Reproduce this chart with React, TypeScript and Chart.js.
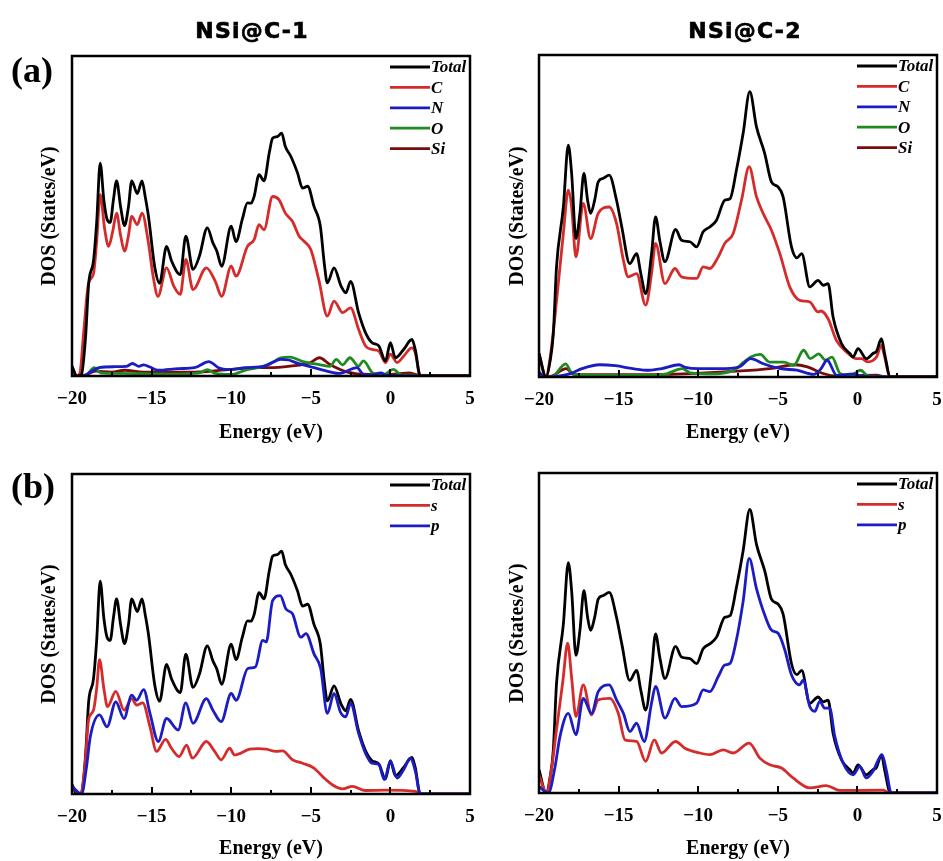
import React, { useEffect, useRef } from "react";
import { Chart, registerables } from "chart.js";
Chart.register(...registerables);

// ---------- data (energy in eV, DOS in arbitrary units 0..100) ----------
const xTickValues = [-20, -15, -10, -5, 0, 5];
const yMax = 100;

const nsi1Total = [[-20,3],[-19.7,0],[-19.4,0.5],[-19.15,12],[-18.95,29],[-18.65,36],[-18.45,48],[-18.23,66.5],[-18.0,55],[-17.8,49],[-17.6,48],[-17.4,55],[-17.2,61],[-16.95,53],[-16.7,47],[-16.45,53],[-16.25,61],[-15.9,57],[-15.6,61],[-15.4,56],[-15.2,50],[-14.8,34],[-14.5,29],[-14.06,40.5],[-13.75,36],[-13.2,31.7],[-12.85,43.7],[-12.4,33.3],[-12.0,37.4],[-11.5,46.3],[-11.15,41.6],[-10.9,39],[-10.6,34.3],[-10.0,46.8],[-9.7,42],[-9.3,49],[-8.98,54.1],[-8.75,54],[-8.56,56.1],[-8.25,62.9],[-7.94,61],[-7.6,70],[-7.4,74.3],[-7.1,74.8],[-6.83,75.9],[-6.6,71.7],[-6.25,68.6],[-5.83,63.4],[-5.52,58.7],[-5.2,59.3],[-4.8,53],[-4.4,46.8],[-4.15,35],[-3.96,29.1],[-3.54,33.8],[-3.1,28.1],[-2.8,26],[-2.5,29.6],[-2.0,19.8],[-1.56,13.5],[-1.15,10.4],[-0.73,9.4],[-0.31,4.7],[0,10.4],[0.31,5.7],[0.83,8.3],[1.35,11.4],[1.56,8.3],[1.875,0],[5,0]];
const nsi1C = [[-20,3],[-19.7,0],[-19.5,1],[-19.27,13.5],[-18.96,29],[-18.65,32],[-18.45,42],[-18.23,56.7],[-17.95,46],[-17.7,40.5],[-17.45,45],[-17.2,50.9],[-16.95,44],[-16.7,39],[-16.45,44],[-16.25,49.9],[-15.9,47.3],[-15.6,50.9],[-15.2,41.6],[-14.9,31],[-14.6,24.9],[-14.06,33.8],[-13.6,28],[-13.2,25.5],[-12.85,36.4],[-12.4,27],[-11.56,33.8],[-11.0,29.6],[-10.6,24.9],[-10.0,34.3],[-9.7,31.2],[-8.98,40.5],[-8.56,42.6],[-8.25,47.3],[-7.94,45.7],[-7.4,56.1],[-7.0,55.1],[-6.6,50.9],[-6.15,48.3],[-5.73,43.7],[-5.42,42.1],[-5.0,39.5],[-4.5,30.1],[-3.96,18.7],[-3.54,23.4],[-3.0,19.8],[-2.5,21.3],[-2.0,14.6],[-1.56,9.4],[-1.15,8.3],[-0.73,7.8],[-0.31,4.2],[0,6.8],[0.42,4.2],[0.83,6.2],[1.35,8.8],[1.56,7.3],[1.875,0],[5,0]];
const nsi1N = [[-20,0],[-19.3,0],[-18.75,1.5],[-18.3,2.6],[-17.3,2.9],[-16.6,3],[-16.2,3.9],[-15.8,3],[-15.5,3.5],[-15.1,2.8],[-14.6,1.8],[-13.3,2.3],[-12.3,2.6],[-11.4,4.5],[-10.8,2.6],[-10.2,2.0],[-9.1,2.6],[-7.9,3.1],[-7.45,4.1],[-6.9,5.2],[-6.4,5],[-5.9,4.1],[-4.8,2.6],[-3.8,1.3],[-3.2,0.8],[-2.1,2.6],[-1.7,0.5],[-1.2,0.3],[-0.6,1],[-0.2,0.2],[5,0]];
const nsi1O = [[-20,0],[-19.2,0],[-18.6,2.6],[-18.2,1],[-17,0.8],[-14,0.6],[-12,1],[-11.5,2],[-11,0.8],[-10,0.5],[-9,2],[-8,3],[-7.3,4.5],[-6.9,5.7],[-6.3,5.9],[-5.5,4.5],[-4.4,3.5],[-3.8,3],[-3.4,5.2],[-3.0,3.5],[-2.54,5.7],[-2.0,3.1],[-1.7,4.7],[-1.07,0.8],[-0.4,0.5],[0.18,2.1],[0.7,0.3],[1.5,0.3],[5,0]];
const nsi1Si = [[-20,0],[-19.2,0.3],[-18.5,1.5],[-17.5,1.2],[-16.7,1.8],[-15.5,1.2],[-14,1.2],[-12,1.3],[-10.2,2],[-8.3,2.6],[-7.56,2.6],[-6.3,3.1],[-5.05,4.1],[-4.46,5.7],[-3.8,3.6],[-2.75,1.3],[-1.3,0.5],[0,0.5],[1.2,1],[1.9,0],[5,0]];
const nsi1S = [[-20,2.4],[-19.5,0],[-19.2,8],[-18.96,23.1],[-18.65,26.2],[-18.45,33],[-18.27,42],[-18.0,33],[-17.77,27.3],[-17.25,32.1],[-16.73,26.2],[-16.25,29.8],[-15.94,27.8],[-15.56,28.5],[-15.1,21],[-14.69,13.3],[-14.12,17.1],[-13.75,14.3],[-13.27,11.7],[-12.8,15.3],[-12.44,11.2],[-11.56,16.4],[-11.04,13.3],[-10.63,10.7],[-10.1,14.3],[-9.79,12.2],[-8.85,14],[-8.3,14.2],[-7.8,14],[-7.19,13.3],[-6.77,13.5],[-6.15,10.7],[-5.52,9.6],[-4.8,8.1],[-4.27,5.5],[-3.65,2.9],[-3.0,1.6],[-2.4,2.4],[-1.56,1.1],[-0.31,1.2],[1.56,0.8],[1.9,0],[5,0]];
const nsi1P = [[-20,2.4],[-19.4,0],[-19.1,8],[-18.85,17.9],[-18.27,24.7],[-17.8,21],[-17.25,28.8],[-16.73,23.6],[-16.25,30.9],[-15.94,29.3],[-15.5,32.6],[-15.1,25.2],[-14.58,16.4],[-14.06,23.6],[-13.33,20],[-12.85,28.5],[-12.4,22.1],[-11.56,29.8],[-11.15,26.2],[-10.63,22.6],[-10.0,31.4],[-9.69,29.3],[-8.96,39.2],[-8.48,39.7],[-8.02,48],[-7.8,47.5],[-7.4,60.4],[-6.92,62],[-6.56,57.8],[-6.15,56.3],[-5.63,49],[-5.3,50.1],[-4.8,43.8],[-4.38,39.2],[-3.96,25.2],[-3.54,31.4],[-3.13,25.5],[-2.81,24.1],[-2.5,28.3],[-2.0,19],[-1.56,12.7],[-1.15,9.6],[-0.73,9.2],[-0.38,4.5],[0,10.2],[0.42,5],[0.83,7.6],[1.25,11.2],[1.56,7.3],[1.875,0],[5,0]];

const nsi2Total = [[-20,7.3],[-19.56,0],[-19.3,5],[-19.1,13.5],[-18.9,34.2],[-18.47,52.8],[-18.16,72],[-17.95,63.2],[-17.68,43],[-17.43,50.8],[-17.18,63.2],[-16.95,55],[-16.76,50.8],[-16.5,55],[-16.28,60.6],[-15.96,61.7],[-15.59,62.7],[-15.13,54.9],[-14.8,46.6],[-14.3,35.2],[-13.87,38.3],[-13.6,32],[-13.3,25.9],[-12.93,38.3],[-12.68,49.7],[-12.4,42],[-12.09,35.8],[-11.42,45.8],[-11.05,42.5],[-10.52,42],[-10.1,40.4],[-9.69,45.1],[-9.27,46.6],[-8.85,48.7],[-8.33,54.9],[-8.0,55.4],[-7.6,64.2],[-7.18,75.6],[-6.76,88.6],[-6.34,77.7],[-5.82,69.4],[-5.4,60.6],[-4.98,59],[-4.67,56],[-4.14,40.4],[-3.8,37],[-3.5,38.3],[-2.99,28],[-2.47,30],[-2.15,28.5],[-1.84,29],[-1.53,18.7],[-1.0,10.4],[-0.48,7.3],[-0.27,6.2],[0.04,8.8],[0.56,5.7],[0.98,7.3],[1.2,8],[1.51,11.9],[1.72,7],[2.07,0],[5,0]];
const nsi2C = [[-20,7.3],[-19.56,0],[-19.3,6],[-19.0,18.7],[-18.47,44.6],[-18.16,58],[-17.95,52.8],[-17.68,37.3],[-17.22,53.9],[-16.76,43],[-16.28,50.8],[-15.59,52.8],[-15.13,47.7],[-14.7,36.3],[-14.4,31.1],[-13.87,32.1],[-13.3,22.3],[-12.93,32.1],[-12.68,41.5],[-12.09,29],[-11.46,33.7],[-11.05,31.1],[-10.1,30.6],[-9.69,34.2],[-9.27,33.7],[-8.74,37.3],[-8.33,41.5],[-7.8,44.6],[-7.28,54.9],[-6.8,65.3],[-6.34,56],[-5.92,50.8],[-5.4,45.6],[-4.87,38.3],[-4.25,28],[-3.62,23.8],[-2.99,23.3],[-2.47,20.2],[-2.3,20.5],[-1.84,18.1],[-1.32,11.4],[-0.69,7.8],[-0.06,5.7],[0.25,5.7],[0.67,4.7],[1.2,6.2],[1.5,9.8],[1.72,6],[2.05,0],[5,0]];
const nsi2N = [[-20,1.5],[-19.6,0],[-18.5,0.5],[-17.9,1.3],[-17.3,2.6],[-16.2,3.8],[-15.2,3.5],[-14.1,2.6],[-13.1,2.1],[-12.3,2.6],[-11.2,3.8],[-10.8,3],[-10.0,2.6],[-8.7,2.6],[-7.45,3.1],[-6.7,5.7],[-5.9,4.1],[-4.84,2.6],[-3.8,2.1],[-2.75,0.8],[-2.3,2.5],[-1.9,5.2],[-1.3,0.5],[-0.24,1.0],[0.3,0.2],[5,0]];
const nsi2O = [[-20,0],[-19.2,0],[-18.33,4.1],[-17.9,1.0],[-16,0.5],[-13,0.5],[-12,1],[-11.0,2.6],[-10.5,1.3],[-9,1],[-7.8,2],[-7.14,4.6],[-6.7,6.2],[-6.1,7.0],[-5.5,4.6],[-4.63,4.6],[-4.0,3.6],[-3.38,8.3],[-2.96,5.7],[-2.43,7.2],[-2.0,5.2],[-1.6,6.2],[-1.07,1.0],[-0.4,0.5],[0.18,2.1],[0.7,0.3],[5,0]];
const nsi2Si = [[-20,0],[-19.2,0.3],[-18.3,2.6],[-17.8,0.8],[-16,0.7],[-12,0.8],[-10,1.2],[-7.56,1.8],[-5.5,2.6],[-3.9,3.8],[-3.2,3.2],[-2.1,1.0],[-1.3,0.3],[1.2,0.6],[1.8,0],[5,0]];
const nsi2S = [[-20,5.7],[-19.52,0],[-19.2,8],[-18.9,19.8],[-18.5,35],[-18.2,46.8],[-17.95,36],[-17.68,23.9],[-17.22,33.8],[-16.7,24.4],[-16.28,29.1],[-15.54,29.6],[-15.02,24.9],[-14.6,16.6],[-13.87,16.1],[-13.3,9.9],[-12.76,16.6],[-12.3,12.5],[-11.42,16.1],[-10.84,14],[-9.9,12.5],[-9.27,12],[-8.43,13.5],[-7.8,12.5],[-6.8,15.6],[-6.13,10.9],[-5.5,8.8],[-4.77,7.8],[-4.04,4.7],[-2.99,1.6],[-1.95,2.3],[-1.1,0.8],[1.63,0.9],[2.0,0],[5,0]];
const nsi2P = [[-20,2],[-19.41,0],[-19.0,8],[-18.68,17.7],[-18.16,24.9],[-17.68,18.2],[-17.22,29.6],[-16.7,24.9],[-16.28,31.7],[-15.59,33.8],[-15.13,29.1],[-14.7,24.9],[-14.29,19.2],[-13.87,21.8],[-13.39,16.1],[-12.93,28.1],[-12.68,33.3],[-12.09,23.4],[-11.46,29.6],[-11.05,27],[-10.1,28.1],[-9.69,32.2],[-9.27,31.7],[-8.74,36.4],[-8.33,40],[-8.0,40.5],[-7.6,47.8],[-7.18,59.8],[-6.8,73.3],[-6.34,63.9],[-5.82,55.6],[-5.4,50.9],[-4.98,49.9],[-4.56,44.7],[-4.14,36.9],[-3.62,33.8],[-3.41,35.3],[-2.99,27],[-2.68,25.5],[-2.36,28.6],[-2.05,26.5],[-1.74,26.5],[-1.42,17.7],[-0.9,9.4],[-0.27,5.7],[0.15,8.3],[0.56,4.7],[0.98,6.8],[1.55,12],[1.82,7],[2.13,0],[5,0]];

const panelTitles = ["NSi@C-1", "NSi@C-2"];
const rowLabels = ["(a)", "(b)"];
const xTitle = "Energy (eV)";
const yTitle = "DOS (States/eV)";

// ---------- styling ----------
const BLACK = "#000000";
const RED = "#d62b2b";
const BLUE = "#1c1cc4";
const GREEN = "#1f8a1f";
const MAROON = "#780c0c";
const SERIF = "'Liberation Serif', 'Times New Roman', serif";
const LINE_W = 2.8;

type Series = { label: string; color: string; data: number[][]; order: number };
type Spec = {
  left: number; top: number; width: number; height: number;
  area: { l: number; t: number; r: number; b: number };
  yTitleX: number; xTitleY: number;
  series: Series[];
};

const elemSeries = (t: number[][], c: number[][], n: number[][], o: number[][], si: number[][]): Series[] => [
  { label: "Total", color: BLACK, data: t, order: 1 },
  { label: "C", color: RED, data: c, order: 2 },
  { label: "N", color: BLUE, data: n, order: 3 },
  { label: "O", color: GREEN, data: o, order: 4 },
  { label: "Si", color: MAROON, data: si, order: 5 },
];
const orbSeries = (t: number[][], s: number[][], p: number[][]): Series[] => [
  { label: "Total", color: BLACK, data: t, order: 2 },
  { label: "s", color: RED, data: s, order: 1 },
  { label: "p", color: BLUE, data: p, order: 0 },
];

const specs: Spec[] = [
  { left: 0, top: 0, width: 476, height: 450, area: { l: 72, t: 56, r: 470, b: 376 }, yTitleX: 50, xTitleY: 433, series: elemSeries(nsi1Total, nsi1C, nsi1N, nsi1O, nsi1Si) },
  { left: 470, top: 0, width: 473, height: 450, area: { l: 539, t: 55, r: 937, b: 377 }, yTitleX: 518, xTitleY: 433, series: elemSeries(nsi2Total, nsi2C, nsi2N, nsi2O, nsi2Si) },
  { left: 0, top: 420, width: 476, height: 441, area: { l: 72, t: 474, r: 470, b: 794 }, yTitleX: 50, xTitleY: 849, series: orbSeries(nsi1Total, nsi1S, nsi1P) },
  { left: 470, top: 420, width: 473, height: 441, area: { l: 539, t: 473, r: 937, b: 793 }, yTitleX: 518, xTitleY: 849, series: orbSeries(nsi2Total, nsi2S, nsi2P) },
];

const fmtTick = (v: number) => (v < 0 ? "\u2212" + Math.abs(v) : String(v));

function Panel({ spec }: { spec: Spec }) {
  const ref = useRef<HTMLCanvasElement>(null);
  useEffect(() => {
    const canvas = ref.current!;
    const a = spec.area;
    const padTop = a.t - spec.top;
    const padRight = spec.left + spec.width - a.r;
    const yW = a.l - spec.left;
    const xH = spec.top + spec.height - a.b;
    const titleFont = 20;
    const titleLH = titleFont * 1.2;
    const deco = {
      id: "deco",
      afterDatasetsDraw(chart: any) {
        const { ctx, chartArea: ca, scales } = chart;
        const xs = scales.x;
        ctx.save();
        ctx.strokeStyle = BLACK;
        ctx.lineCap = "butt";
        // inward ticks (major + minor)
        for (let v = -20; v <= 5; v += 2.5) {
          const px = Math.round(xs.getPixelForValue(v));
          const major = v % 5 === 0;
          ctx.lineWidth = 2;
          ctx.beginPath();
          ctx.moveTo(px, ca.bottom);
          ctx.lineTo(px, ca.bottom - (major ? 7 : 4));
          ctx.stroke();
        }
        // frame
        ctx.lineWidth = 2.5;
        ctx.strokeRect(ca.left, ca.top, ca.right - ca.left, ca.bottom - ca.top);
        // legend
        ctx.font = `italic bold 17px ${SERIF}`;
        ctx.textBaseline = "middle";
        ctx.textAlign = "left";
        spec.series.forEach((s, i) => {
          const y = ca.top + 11 + i * 20.4;
          ctx.strokeStyle = s.color;
          ctx.lineWidth = LINE_W;
          ctx.beginPath();
          ctx.moveTo(ca.right - 80, y);
          ctx.lineTo(ca.right - 40, y);
          ctx.stroke();
          ctx.fillStyle = BLACK;
          ctx.fillText(s.label, ca.right - 39, y + 1);
        });
        ctx.restore();
      },
    };
    const chart = new Chart(canvas, {
      type: "line",
      data: {
        datasets: spec.series.map((s) => ({
          label: s.label,
          data: s.data.map(([x, y]) => ({ x, y })),
          borderColor: s.color,
          backgroundColor: s.color,
          borderWidth: LINE_W,
          pointRadius: 0,
          cubicInterpolationMode: "monotone",
          fill: false,
          order: s.order,
        })),
      },
      options: {
        animation: false,
        responsive: false,
        maintainAspectRatio: false,
        layout: { padding: { top: padTop, right: padRight, left: 0, bottom: 0 } },
        plugins: { legend: { display: false }, tooltip: { enabled: false } },
        scales: {
          x: {
            type: "linear",
            min: -20,
            max: 5,
            afterBuildTicks: (s: any) => {
              s.ticks = xTickValues.map((v) => ({ value: v }));
            },
            ticks: {
              autoSkip: false,
              maxRotation: 0,
              padding: 12,
              color: BLACK,
              font: { family: SERIF, size: 19, weight: "bold" },
              callback: (v: any) => fmtTick(Number(v)),
            },
            grid: { display: false, drawTicks: false },
            border: { display: false },
            title: {
              display: true,
              text: xTitle,
              color: BLACK,
              font: { family: SERIF, size: titleFont, weight: "bold", lineHeight: 1.2 },
              padding: { top: 0, bottom: Math.max(0, spec.top + spec.height - spec.xTitleY - titleLH / 2) },
            },
            afterFit: (s: any) => {
              s.height = xH;
              s.paddingLeft = 0;
              s.paddingRight = 0;
            },
          },
          y: {
            min: 0,
            max: yMax,
            ticks: { display: false },
            grid: { display: false, drawTicks: false },
            border: { display: false },
            title: {
              display: true,
              text: yTitle,
              color: BLACK,
              font: { family: SERIF, size: titleFont, weight: "bold", lineHeight: 1.2 },
              padding: { top: spec.yTitleX - spec.left - titleLH / 2, bottom: 0 },
            },
            afterFit: (s: any) => {
              s.width = yW;
              s.paddingTop = 0;
              s.paddingBottom = 0;
            },
          },
        },
      } as any,
      plugins: [deco],
    });
    return () => chart.destroy();
  }, [spec]);
  return (
    <canvas
      ref={ref}
      width={spec.width}
      height={spec.height}
      style={{ position: "absolute", left: spec.left, top: spec.top, width: spec.width, height: spec.height }}
    />
  );
}

export default function App() {
  useEffect(() => {
    document.body.style.margin = "0";
    document.body.style.background = "#ffffff";
  }, []);
  return (
    <div style={{ position: "absolute", left: 0, top: 0, width: 943, height: 861, background: "#ffffff", overflow: "hidden" }}>
      {specs.map((s, i) => (
        <Panel key={i} spec={s} />
      ))}
      {panelTitles.map((t, i) => (
        <div
          key={t}
          style={{
            position: "absolute",
            left: i === 0 ? 252 : 745,
            top: 20,
            transform: "translateX(-50%)",
            font: "bold 22px 'DejaVu Sans', sans-serif",
            lineHeight: "22px",
            letterSpacing: "1.2px",
            WebkitTextStroke: "0.7px #000",
            whiteSpace: "nowrap",
            color: BLACK,
          }}
        >
          {t}
        </div>
      ))}
      {rowLabels.map((t, i) => (
        <div
          key={t}
          style={{
            position: "absolute",
            left: 11,
            top: i === 0 ? 52 : 468,
            font: `bold 36px ${SERIF}`,
            lineHeight: "36px",
            whiteSpace: "nowrap",
            color: BLACK,
          }}
        >
          {t}
        </div>
      ))}
    </div>
  );
}
